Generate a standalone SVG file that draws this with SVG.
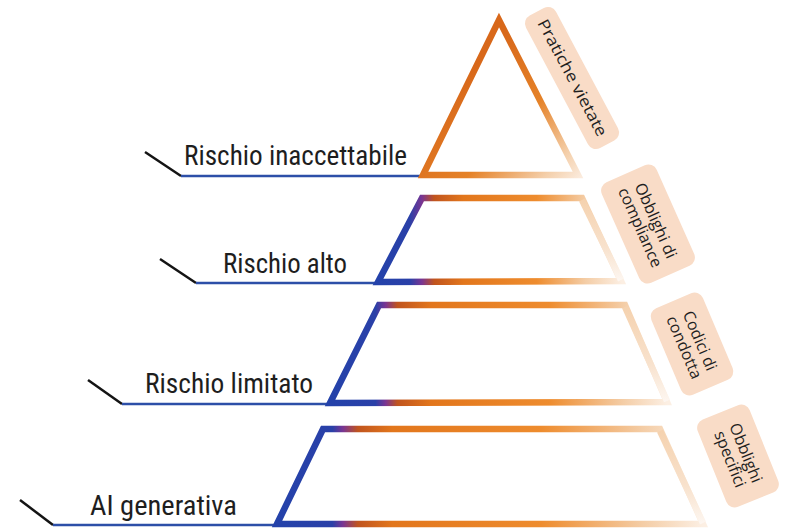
<svg xmlns="http://www.w3.org/2000/svg" width="786" height="529" viewBox="0 0 786 529">
<defs>
<style>
.lbl{font-family:"Liberation Sans Narrow","Roboto Condensed","Liberation Sans",Arial,sans-serif;font-size:27px;fill:#1e1e1e}
.tag{font-family:"Open Sans","Liberation Sans",Arial,sans-serif;font-size:16px;fill:#1f1f1f;text-anchor:middle}
.box{fill:#f9dcc7}
.tick{stroke:#141414;stroke-width:2.5;fill:none}
.base{stroke:#2d4fa8;stroke-width:2.5;fill:none}
.tier{fill:none;stroke-width:6.5;stroke-linejoin:miter}
.side{fill:none;stroke-width:6.5;stroke:url(#gSide)}
</style>
<linearGradient id="gTri" gradientUnits="userSpaceOnUse" x1="470" y1="70" x2="585" y2="180">
<stop offset="0" stop-color="#d8681a"/>
<stop offset="0.45" stop-color="#e58228"/>
<stop offset="0.8" stop-color="#f4cfaa"/>
<stop offset="1" stop-color="#fcf0e6"/>
</linearGradient>
<linearGradient id="gSide" x1="0" y1="0" x2="0" y2="1">
<stop offset="0" stop-color="#f5d2af"/>
<stop offset="0.6" stop-color="#f8e2cd"/>
<stop offset="1" stop-color="#fdf6f0"/>
</linearGradient>
<linearGradient id="g2" gradientUnits="userSpaceOnUse" x1="378" y1="0" x2="622" y2="0">
<stop offset="0" stop-color="#2442aa"/>
<stop offset="0.13" stop-color="#2a40a8"/>
<stop offset="0.18" stop-color="#7a3592"/>
<stop offset="0.23" stop-color="#c0541e"/>
<stop offset="0.35" stop-color="#e2761c"/>
<stop offset="0.65" stop-color="#ee8c2e"/>
<stop offset="0.85" stop-color="#f4cda6"/>
<stop offset="1" stop-color="#fcefe3"/>
</linearGradient>
<linearGradient id="g3" gradientUnits="userSpaceOnUse" x1="330" y1="0" x2="667" y2="0">
<stop offset="0" stop-color="#2442aa"/>
<stop offset="0.135" stop-color="#2a40a8"/>
<stop offset="0.165" stop-color="#7a3592"/>
<stop offset="0.2" stop-color="#c0541e"/>
<stop offset="0.3" stop-color="#e2761c"/>
<stop offset="0.65" stop-color="#ee8c2e"/>
<stop offset="0.87" stop-color="#f4cda6"/>
<stop offset="1" stop-color="#fcefe3"/>
</linearGradient>
<linearGradient id="g4" gradientUnits="userSpaceOnUse" x1="277" y1="0" x2="703" y2="0">
<stop offset="0" stop-color="#2442aa"/>
<stop offset="0.13" stop-color="#2a40a8"/>
<stop offset="0.155" stop-color="#7a3592"/>
<stop offset="0.19" stop-color="#c0541e"/>
<stop offset="0.27" stop-color="#e2761c"/>
<stop offset="0.62" stop-color="#ee8c2e"/>
<stop offset="0.86" stop-color="#f4cda6"/>
<stop offset="1" stop-color="#fcefe3"/>
</linearGradient>
</defs>
<rect width="786" height="529" fill="#ffffff"/>

<g id="connectors">
<path class="tick" d="M145,152 L181,176"/>
<path class="base" d="M181,176 L423,176"/>
<path class="tick" d="M160,259 L196,283"/>
<path class="base" d="M196,283 L378,283"/>
<path class="tick" d="M88,380 L122,404"/>
<path class="base" d="M122,404 L330,404"/>
<path class="tick" d="M20,500 L53,525"/>
<path class="base" d="M53,525 L277,525"/>
</g>

<g id="tier1">
<path class="tier" stroke="url(#gTri)" d="M423,175 L499,20 L578,175 Z"/>
<text class="lbl" x="184" y="165" textLength="223" lengthAdjust="spacingAndGlyphs">Rischio inaccettabile</text>
<g transform="translate(572,78) rotate(62)">
<rect class="box" x="-75" y="-17" width="150" height="34" rx="9"/>
<text class="tag" x="0" y="5" textLength="130" lengthAdjust="spacingAndGlyphs">Pratiche vietate</text>
</g>
</g>

<g id="tier2">
<path class="tier" stroke="url(#g2)" d="M378,282 L422,198 L582,198 L621,281 Z"/>
<path class="side" d="M582,200 L621,280"/>
<text class="lbl" x="223" y="273" textLength="124" lengthAdjust="spacingAndGlyphs">Rischio alto</text>
<g transform="translate(648,224) rotate(66)">
<rect class="box" x="-55" y="-30" width="110" height="60" rx="9"/>
<text class="tag" x="0" y="-3">Obblighi di</text>
<text class="tag" x="0" y="14">compliance</text>
</g>
</g>

<g id="tier3">
<path class="tier" stroke="url(#g3)" d="M330,403 L379,305 L625,305 L667,402 Z"/>
<path class="side" d="M625,307 L667,401"/>
<text class="lbl" x="145" y="393" textLength="168" lengthAdjust="spacingAndGlyphs">Rischio limitato</text>
<g transform="translate(692,344) rotate(67)">
<rect class="box" x="-47" y="-28" width="94" height="56" rx="9"/>
<text class="tag" x="0" y="-3">Codici di</text>
<text class="tag" x="0" y="14">condotta</text>
</g>
</g>

<g id="tier4">
<path class="tier" stroke="url(#g4)" d="M277,524 L323,429 L660,429 L703,524 Z"/>
<path class="side" d="M660,431 L703,523"/>
<text class="lbl" x="90" y="515" textLength="147" lengthAdjust="spacingAndGlyphs">AI generativa</text>
<g transform="translate(738,456) rotate(68)">
<rect class="box" x="-47" y="-28" width="94" height="56" rx="9"/>
<text class="tag" x="0" y="-3">Obblighi</text>
<text class="tag" x="0" y="14">specifici</text>
</g>
</g>
</svg>
